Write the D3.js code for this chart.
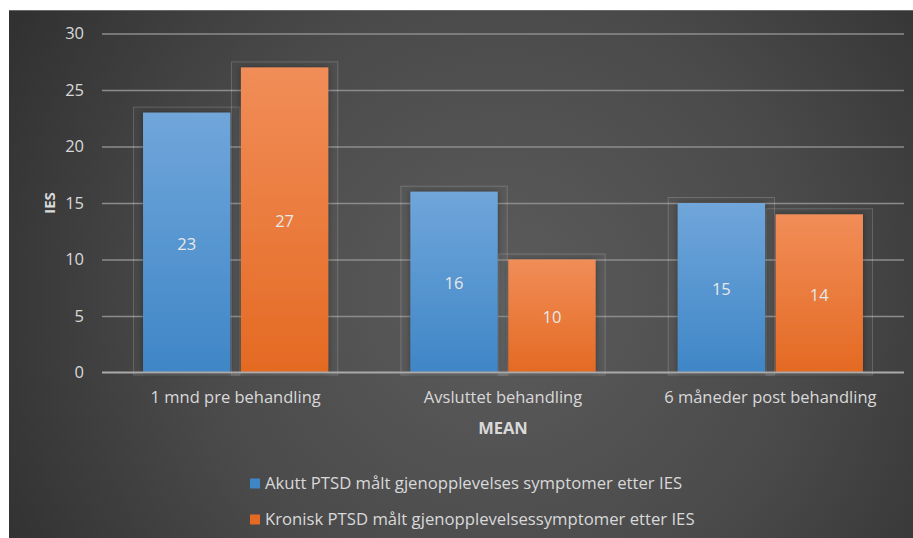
<!DOCTYPE html>
<html>
<head>
<meta charset="utf-8">
<script src="https://cdn.jsdelivr.net/npm/d3@7"></script>
<style>
  html, body { margin: 0; padding: 0; background: #ffffff; }
  svg { display: block; }
  text { font-family: "Open Sans", sans-serif; }
</style>
</head>
<body>
<svg id="chart" width="913" height="538"></svg>
<script>
// Mean IES re-experiencing scores per measurement point
const categories = ["1 mnd pre behandling", "Avsluttet behandling", "6 måneder post behandling"];
const seriesNames = [
  "Akutt PTSD målt gjenopplevelses symptomer etter IES",
  "Kronisk PTSD målt gjenopplevelsessymptomer etter IES"
];
const acuteValues = [23, 16, 15];
const chronicValues = [27, 10, 14];
const yTicks = [0, 5, 10, 15, 20, 25, 30];
const yTitle = "IES";
const xTitle = "MEAN";

const seriesValues = [acuteValues, chronicValues];
const svg = d3.select("#chart");
const W = 913, H = 538;
const FONT = "'Open Sans', sans-serif";

const defs = svg.append("defs");

// Dark panel with a soft light spot in the middle
const bg = defs.append("radialGradient").attr("id", "bgGrad")
  .attr("gradientUnits", "userSpaceOnUse")
  .attr("cx", 500).attr("cy", 300).attr("r", 560);
bg.append("stop").attr("offset", "0%").attr("stop-color", "#5c5c5d");
bg.append("stop").attr("offset", "55%").attr("stop-color", "#4a4a4b");
bg.append("stop").attr("offset", "100%").attr("stop-color", "#313132");

const palettes = [
  { top: "#70a6da", bottom: "#3f86c7" },
  { top: "#f18d58", bottom: "#e46a23" }
];
palettes.forEach((p, i) => {
  const g = defs.append("linearGradient").attr("id", "barGrad" + i)
    .attr("x1", 0).attr("y1", 0).attr("x2", 0).attr("y2", 1);
  g.append("stop").attr("offset", "0%").attr("stop-color", p.top);
  g.append("stop").attr("offset", "100%").attr("stop-color", p.bottom);
});

const shadow = defs.append("filter").attr("id", "barShadow")
  .attr("x", "-20%").attr("y", "-10%").attr("width", "140%").attr("height", "120%");
shadow.append("feDropShadow").attr("dx", 0).attr("dy", 0)
  .attr("stdDeviation", 3).attr("flood-color", "#000").attr("flood-opacity", 0.35);

svg.append("rect").attr("x", 9).attr("y", 10)
  .attr("width", W - 9).attr("height", H - 10)
  .attr("fill", "url(#bgGrad)");
svg.append("line").attr("x1", 9).attr("x2", W).attr("y1", 10.5).attr("y2", 10.5)
  .attr("stroke", "#6a6a6a").attr("stroke-width", 1);

const plot = { left: 102, right: 904, top: 33.5, bottom: 372.5 };

const x0 = d3.scaleBand().domain(categories)
  .range([plot.left, plot.right]).paddingInner(0.307).paddingOuter(0.1535);
const x1 = d3.scaleBand().domain(d3.range(seriesValues.length))
  .range([0, x0.bandwidth()]).paddingInner(0.108);
const y = d3.scaleLinear().domain([0, 30]).range([plot.bottom, plot.top]);

// Gridlines and value axis labels
const yAxis = d3.axisLeft(y).tickValues(yTicks)
  .tickSize(-(plot.right - plot.left)).tickPadding(18);
const gy = svg.append("g").attr("transform", `translate(${plot.left},0)`).call(yAxis);
gy.select(".domain").remove();
gy.selectAll(".tick line").attr("stroke", "#8c8c8c").attr("stroke-width", 1.3);
gy.selectAll(".tick text").attr("fill", "#d9d9d9")
  .style("font-size", "16.5px").style("font-family", FONT);
gy.selectAll(".tick").filter(d => d === 0).select("line").remove();

// Bars, each with a faint outlined frame behind it
const groups = svg.append("g").selectAll("g").data(categories).join("g")
  .attr("transform", d => `translate(${x0(d)},0)`);

const framePad = 10;
groups.each(function (cat, ci) {
  const g = d3.select(this);
  seriesValues.forEach((vals, si) => {
    const v = vals[ci];
    const bx = x1(si), bw = x1.bandwidth();
    g.append("rect")
      .attr("x", bx - framePad + 0.5).attr("y", y(v) - 6 + 0.5)
      .attr("width", bw + 2 * framePad - 1).attr("height", plot.bottom - y(v) + 8)
      .attr("fill", "rgba(255,255,255,0.02)")
      .attr("stroke", "rgba(255,255,255,0.18)").attr("stroke-width", 1);
  });
});
groups.each(function (cat, ci) {
  const g = d3.select(this);
  seriesValues.forEach((vals, si) => {
    const v = vals[ci];
    g.append("rect")
      .attr("x", x1(si)).attr("y", y(v))
      .attr("width", x1.bandwidth()).attr("height", plot.bottom - y(v))
      .attr("fill", `url(#barGrad${si})`)
      .attr("filter", "url(#barShadow)");
    g.append("text")
      .attr("x", x1(si) + x1.bandwidth() / 2)
      .attr("y", (y(v) + plot.bottom) / 2 + 1.5)
      .attr("dy", "0.35em").attr("text-anchor", "middle")
      .attr("fill", "#e8e8e8").style("font-size", "16.5px")
      .text(v);
  });
});

// Baseline and category axis
svg.append("line").attr("x1", plot.left).attr("x2", plot.right)
  .attr("y1", plot.bottom).attr("y2", plot.bottom)
  .attr("stroke", "#a9a9a9").attr("stroke-width", 2);

const xAxis = d3.axisBottom(x0).tickSize(0).tickPadding(19);
const gx = svg.append("g").attr("transform", `translate(0,${plot.bottom})`).call(xAxis);
gx.select(".domain").remove();
gx.selectAll(".tick text").attr("fill", "#d9d9d9")
  .style("font-size", "16.5px").style("font-family", FONT);

// Axis titles
svg.append("text").attr("x", (plot.left + plot.right) / 2).attr("y", 428)
  .attr("dy", "0.35em").attr("text-anchor", "middle")
  .attr("fill", "#d9d9d9").style("font-size", "16.5px").style("font-weight", "bold")
  .text(xTitle);
svg.append("text")
  .attr("transform", `translate(50,${(plot.top + plot.bottom) / 2}) rotate(-90)`)
  .attr("dy", "0.35em").attr("text-anchor", "middle")
  .attr("fill", "#d9d9d9").style("font-size", "15px").style("font-weight", "bold")
  .text(yTitle);

// Legend
const legend = svg.append("g").selectAll("g").data(seriesNames).join("g")
  .attr("transform", (d, i) => `translate(250,${483.5 + i * 36})`);
legend.append("rect").attr("x", 0).attr("y", -5).attr("width", 10).attr("height", 10)
  .attr("fill", (d, i) => palettes[i].bottom);
legend.append("text").attr("x", 15).attr("dy", "0.35em")
  .attr("fill", "#d9d9d9").style("font-size", "16.7px")
  .text(d => d);
</script>
</body>
</html>
